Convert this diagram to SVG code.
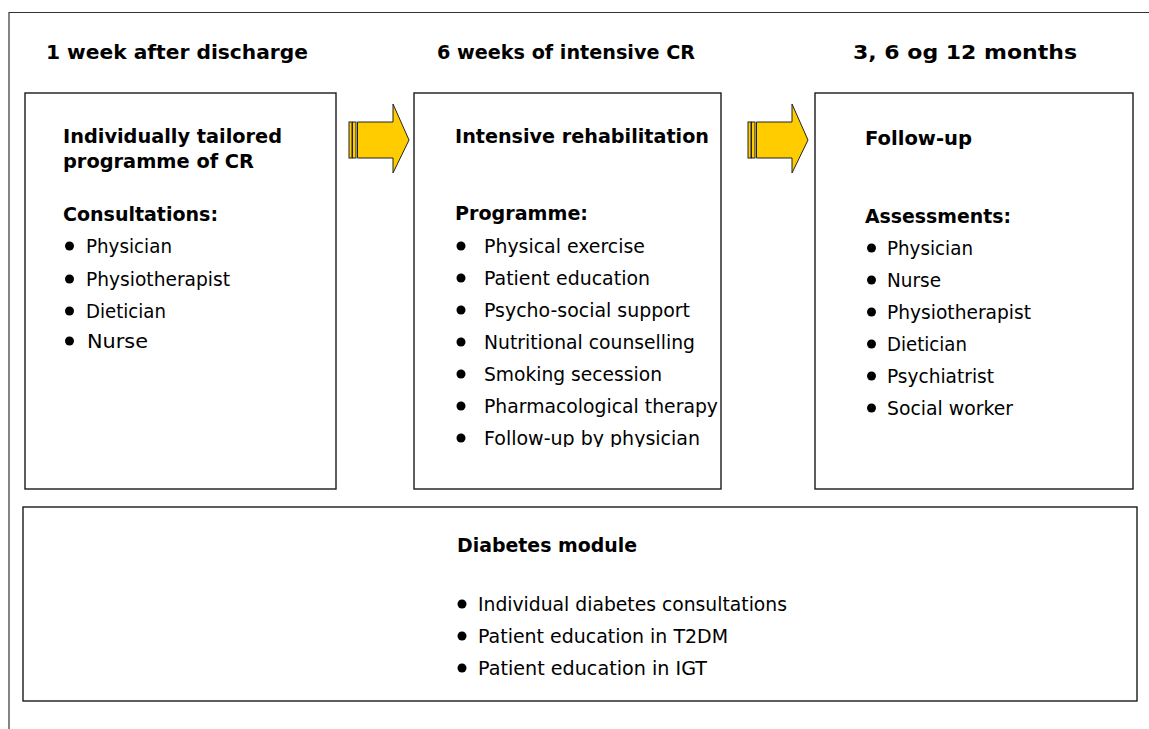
<svg xmlns="http://www.w3.org/2000/svg" width="1149" height="729" viewBox="0 0 1149 729">
<defs>
<style>
.box{fill:#fff;stroke:#1a1a1a;stroke-width:1.4}
.frame{fill:none;stroke:#333;stroke-width:1.2}
.h{font-family:"DejaVu Sans","Liberation Sans",sans-serif;font-weight:bold;font-size:20px;fill:#000}
.t{font-family:"DejaVu Sans","Liberation Sans",sans-serif;font-size:19px;fill:#000}
.dot{fill:#000}
.arr{fill:#FFCC00;stroke:#222;stroke-width:1}
</style>
<clipPath id="clip2"><rect x="414" y="93" width="307" height="354"/></clipPath>
</defs>
<g id="frame">
<path class="frame" d="M9,729 V12.5 H1149"/>
</g>
<g id="headers">
<text class="h" x="46" y="59" textLength="262" lengthAdjust="spacingAndGlyphs">1 week after discharge</text>
<text class="h" x="437" y="59" textLength="258" lengthAdjust="spacingAndGlyphs">6 weeks of intensive CR</text>
<text class="h" x="853" y="59" textLength="224" lengthAdjust="spacingAndGlyphs">3, 6 og 12 months</text>
</g>
<g id="box1">
<rect class="box" x="25" y="93" width="311" height="396"/>
<text class="h" x="63" y="143" textLength="219" lengthAdjust="spacingAndGlyphs">Individually tailored</text>
<text class="h" x="63" y="168" textLength="191" lengthAdjust="spacingAndGlyphs">programme of CR</text>
<text class="h" x="63" y="221" textLength="155" lengthAdjust="spacingAndGlyphs">Consultations:</text>
<circle class="dot" cx="69.5" cy="246" r="4.5"/>
<text class="t" x="86" y="253" textLength="86" lengthAdjust="spacingAndGlyphs">Physician</text>
<circle class="dot" cx="69.5" cy="279" r="4.5"/>
<text class="t" x="86" y="286" textLength="144" lengthAdjust="spacingAndGlyphs">Physiotherapist</text>
<circle class="dot" cx="69.5" cy="311" r="4.5"/>
<text class="t" x="86" y="318" textLength="80" lengthAdjust="spacingAndGlyphs">Dietician</text>
<circle class="dot" cx="69.5" cy="341" r="4.5"/>
<text class="t" x="87" y="348" textLength="61" lengthAdjust="spacingAndGlyphs" style="font-size:20px">Nurse</text>
</g>
<g id="arrow1">
<rect class="arr" x="349" y="122" width="3" height="36"/>
<rect class="arr" x="352.5" y="122" width="3.5" height="36"/>
<polygon class="arr" points="357.5,122 393,122 393,104 409,140 393,173 393,158 357.5,158"/>
</g>
<g id="box2">
<rect class="box" x="414" y="93" width="307" height="396"/>
<text class="h" x="455" y="143" textLength="254" lengthAdjust="spacingAndGlyphs">Intensive rehabilitation</text>
<text class="h" x="455" y="220" textLength="133" lengthAdjust="spacingAndGlyphs">Programme:</text>
<g clip-path="url(#clip2)">
<circle class="dot" cx="461" cy="246" r="4.5"/>
<text class="t" x="484" y="253" textLength="161" lengthAdjust="spacingAndGlyphs">Physical exercise</text>
<circle class="dot" cx="461" cy="278" r="4.5"/>
<text class="t" x="484" y="285" textLength="166" lengthAdjust="spacingAndGlyphs">Patient education</text>
<circle class="dot" cx="461" cy="310" r="4.5"/>
<text class="t" x="484" y="317" textLength="206" lengthAdjust="spacingAndGlyphs">Psycho-social support</text>
<circle class="dot" cx="461" cy="342" r="4.5"/>
<text class="t" x="484" y="349" textLength="211" lengthAdjust="spacingAndGlyphs">Nutritional counselling</text>
<circle class="dot" cx="461" cy="374" r="4.5"/>
<text class="t" x="484" y="381" textLength="178" lengthAdjust="spacingAndGlyphs">Smoking secession</text>
<circle class="dot" cx="461" cy="406" r="4.5"/>
<text class="t" x="484" y="413" textLength="234" lengthAdjust="spacingAndGlyphs">Pharmacological therapy</text>
<circle class="dot" cx="461" cy="438" r="4.5"/>
<text class="t" x="484" y="445" textLength="216" lengthAdjust="spacingAndGlyphs">Follow-up by physician</text>
</g>
</g>
<g id="arrow2">
<rect class="arr" x="748" y="122" width="3" height="36"/>
<rect class="arr" x="751.5" y="122" width="3.5" height="36"/>
<polygon class="arr" points="756.5,122 792,122 792,104 808,140 792,173 792,158 756.5,158"/>
</g>
<g id="box3">
<rect class="box" x="815" y="93" width="318" height="396"/>
<text class="h" x="865" y="145" textLength="107" lengthAdjust="spacingAndGlyphs">Follow-up</text>
<text class="h" x="865" y="223" textLength="146" lengthAdjust="spacingAndGlyphs">Assessments:</text>
<circle class="dot" cx="871.5" cy="248" r="4.5"/>
<text class="t" x="887" y="255" textLength="86" lengthAdjust="spacingAndGlyphs">Physician</text>
<circle class="dot" cx="871.5" cy="280" r="4.5"/>
<text class="t" x="887" y="287" textLength="54" lengthAdjust="spacingAndGlyphs">Nurse</text>
<circle class="dot" cx="871.5" cy="312" r="4.5"/>
<text class="t" x="887" y="319" textLength="144" lengthAdjust="spacingAndGlyphs">Physiotherapist</text>
<circle class="dot" cx="871.5" cy="344" r="4.5"/>
<text class="t" x="887" y="351" textLength="80" lengthAdjust="spacingAndGlyphs">Dietician</text>
<circle class="dot" cx="871.5" cy="376" r="4.5"/>
<text class="t" x="887" y="383" textLength="107" lengthAdjust="spacingAndGlyphs">Psychiatrist</text>
<circle class="dot" cx="871.5" cy="408" r="4.5"/>
<text class="t" x="887" y="415" textLength="126" lengthAdjust="spacingAndGlyphs">Social worker</text>
</g>
<g id="box4">
<rect class="box" x="23" y="507" width="1114" height="194"/>
<text class="h" x="457" y="552" textLength="180" lengthAdjust="spacingAndGlyphs">Diabetes module</text>
<circle class="dot" cx="462" cy="604" r="4.5"/>
<text class="t" x="478" y="611" textLength="309" lengthAdjust="spacingAndGlyphs">Individual diabetes consultations</text>
<circle class="dot" cx="462" cy="636" r="4.5"/>
<text class="t" x="478" y="643" textLength="250" lengthAdjust="spacingAndGlyphs">Patient education in T2DM</text>
<circle class="dot" cx="462" cy="668" r="4.5"/>
<text class="t" x="478" y="675" textLength="229" lengthAdjust="spacingAndGlyphs">Patient education in IGT</text>
</g>
</svg>
